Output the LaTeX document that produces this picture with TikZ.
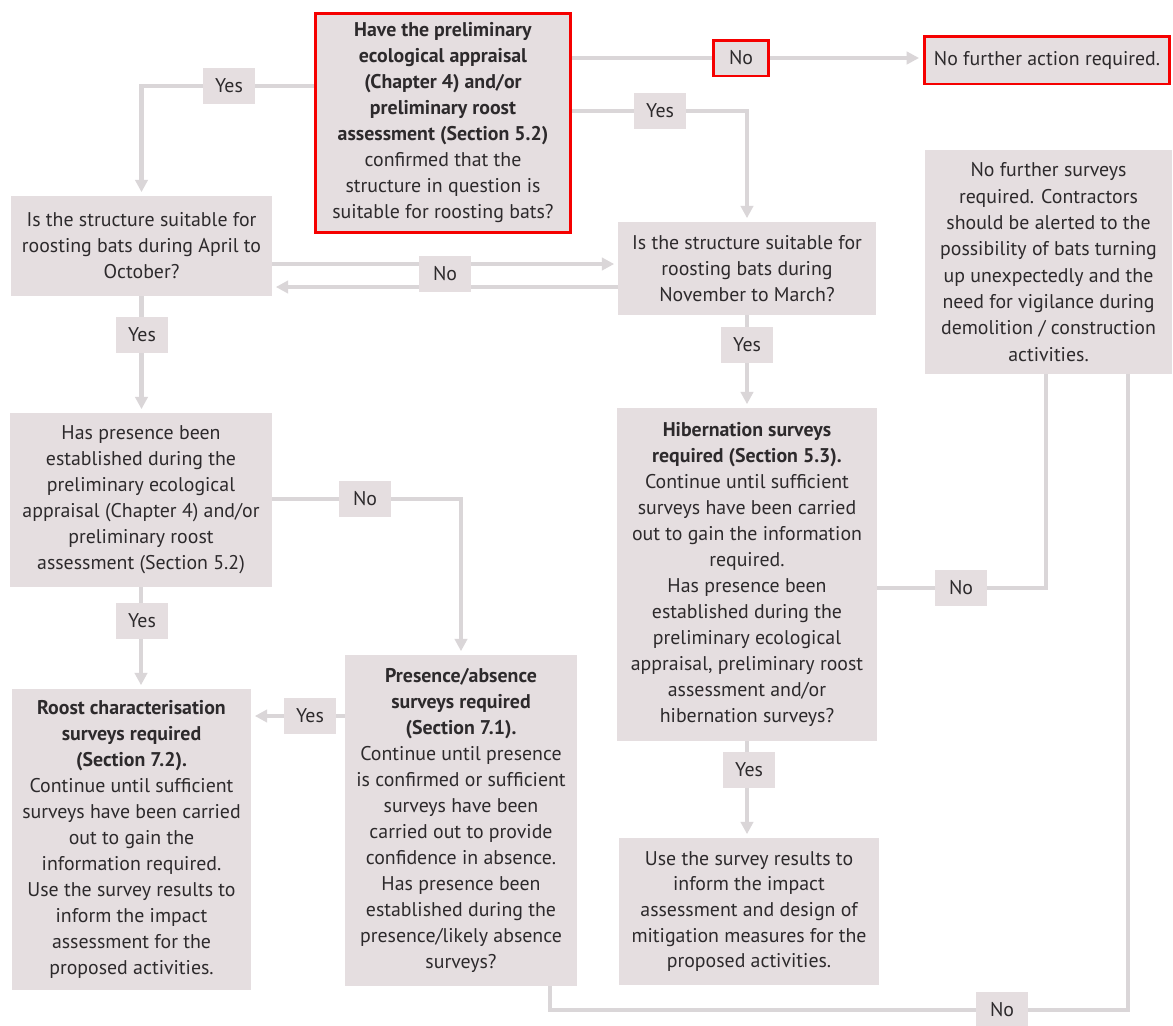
\documentclass[tikz,border=0pt]{standalone}
\usepackage{fontspec}
\setmainfont{PT Sans}
\usetikzlibrary{arrows.meta}
\pgfdeclarelayer{background}
\pgfsetlayers{background,main}
\definecolor{boxfill}{RGB}{229,222,224}
\definecolor{linecol}{RGB}{218,214,216}
\definecolor{txtcol}{RGB}{45,42,44}
\definecolor{redcol}{RGB}{245,0,0}
\tikzset{
  box/.style={fill=boxfill, text=txtcol, align=center, inner sep=0pt,
    font=\fontsize{11.3}{14.8}\selectfont},
  lab/.style={fill=boxfill, text=txtcol, inner sep=0pt, minimum width=1.04cm,
    minimum height=0.72cm, font=\fontsize{11.3}{13}\selectfont},
  redframe/.style={draw=redcol, line width=1.7pt},
  conn/.style={draw=linecol, line width=2.6pt},
  arr/.style={conn, -{Triangle[length=7pt,width=7pt]}, shorten >=2pt},
}
\begin{document}
\begin{tikzpicture}[x=0.02cm,y=-0.02cm]
\useasboundingbox (0,0) rectangle (1173,1025);

% boxes
\node[box, redframe, minimum width=5.12cm, minimum height=4.40cm] (Q1) at (443,123)
  {\textbf{Have the preliminary}\\\textbf{ecological appraisal}\\\textbf{(Chapter 4) and/or}\\\textbf{preliminary roost}\\\textbf{assessment (Section 5.2)}\\confirmed that the\\structure in question is\\suitable for roosting bats?};
\node[box, redframe, minimum width=4.92cm, minimum height=0.96cm] (NFA) at (1047,60)
  {No further action required.};
\node[box, minimum width=4.94cm, minimum height=4.48cm,
  font=\fontsize{11.3}{15}\selectfont] (NFS) at (1048.5,262)
  {No further surveys\\required. Contractors\\should be alerted to the\\possibility of bats turning\\up unexpectedly and the\\need for vigilance during\\demolition / construction\\activities.};
\node[box, minimum width=5.22cm, minimum height=2.00cm] (Q2) at (141.5,246)
  {Is the structure suitable for\\roosting bats during April to\\October?};
\node[box, minimum width=5.16cm, minimum height=1.86cm] (Q3) at (747,268.5)
  {Is the structure suitable for\\roosting bats during\\November to March?};
\node[box, minimum width=5.24cm, minimum height=3.48cm] (Pres) at (141,500)
  {Has presence been\\established during the\\preliminary ecological\\appraisal (Chapter 4) and/or\\preliminary roost\\assessment (Section 5.2)};
\node[box, minimum width=5.20cm, minimum height=6.66cm] (Hib) at (747,574.5)
  {\textbf{Hibernation surveys}\\\textbf{required (Section 5.3).}\\Continue until sufficient\\surveys have been carried\\out to gain the information\\required.\\Has presence been\\established during the\\preliminary ecological\\appraisal, preliminary roost\\assessment and/or\\hibernation surveys?};
\node[box, minimum width=4.78cm, minimum height=6.02cm] (Roost) at (131.5,839.5)
  {\textbf{Roost characterisation}\\\textbf{surveys required}\\\textbf{(Section 7.2).}\\Continue until sufficient\\surveys have been carried\\out to gain the\\information required.\\Use the survey results to\\inform the impact\\assessment for the\\proposed activities.};
\node[box, minimum width=4.64cm, minimum height=6.62cm] (PA) at (461,820.5)
  {\textbf{Presence/absence}\\\textbf{surveys required}\\\textbf{(Section 7.1).}\\Continue until presence\\is confirmed or sufficient\\surveys have been\\carried out to provide\\confidence in absence.\\Has presence been\\established during the\\presence/likely absence\\surveys?};
\node[box, minimum width=5.20cm, minimum height=2.94cm,
  font=\fontsize{11.3}{14.6}\selectfont] (Use) at (749,911.5)
  {Use the survey results to\\inform the impact\\assessment and design of\\mitigation measures for the\\proposed activities.};

% labels
\node[lab] (yes1) at (229,86) {Yes};
\node[lab, redframe, minimum width=1.1cm] (no1) at (741,58) {No};
\node[lab] (yes2) at (660,111) {Yes};
\node[lab] (no2) at (445,274) {No};
\node[lab] (yes3) at (142,335) {Yes};
\node[lab] (yes4) at (747,345) {Yes};
\node[lab] (no3) at (365,499) {No};
\node[lab] (yes5) at (142,621) {Yes};
\node[lab] (yes6) at (310,716) {Yes};
\node[lab] (no4) at (961,588) {No};
\node[lab] (yes7) at (749,770) {Yes};
\node[lab] (no5) at (1002,1010) {No};

\path ([yshift=0.2cm]no2.center) coordinate (nA);
\path ([yshift=-0.26cm]no2.center) coordinate (nB);

\begin{pgfonlayer}{background}
\fill[white] (0,0) rectangle (1173,1025);
\draw[arr] (Q1.west |- yes1) -| (Q2.north);
\draw[arr] (Q1.east |- no1) -- (NFA.west |- no1);
\draw[arr] (Q1.east |- yes2) -| (Q3.north);
\draw[arr] (Q2.east |- nA) -- (Q3.west |- nA);
\draw[arr] (Q3.west |- nB) -- (Q2.east |- nB);
\draw[arr] (Q2.south) -- (Q2.south |- Pres.north);
\draw[arr] (Q3.south) -- (Hib.north);
\draw[arr] (Pres.east |- no3) -| (PA.north);
\draw[arr] (Pres.south) -- (Pres.south |- Roost.north);
\draw[arr] (PA.west |- yes6) -- (Roost.east |- yes6);
\draw[conn] (Hib.east |- no4) -| ([xshift=-0.05cm]NFS.south);
\draw[arr] (Hib.south) -- (Hib.south |- Use.north);
\draw[conn] ([xshift=1.78cm]PA.south) |- (no5.center) -| ([xshift=1.59cm]NFS.south);
\end{pgfonlayer}
\end{tikzpicture}
\end{document}
